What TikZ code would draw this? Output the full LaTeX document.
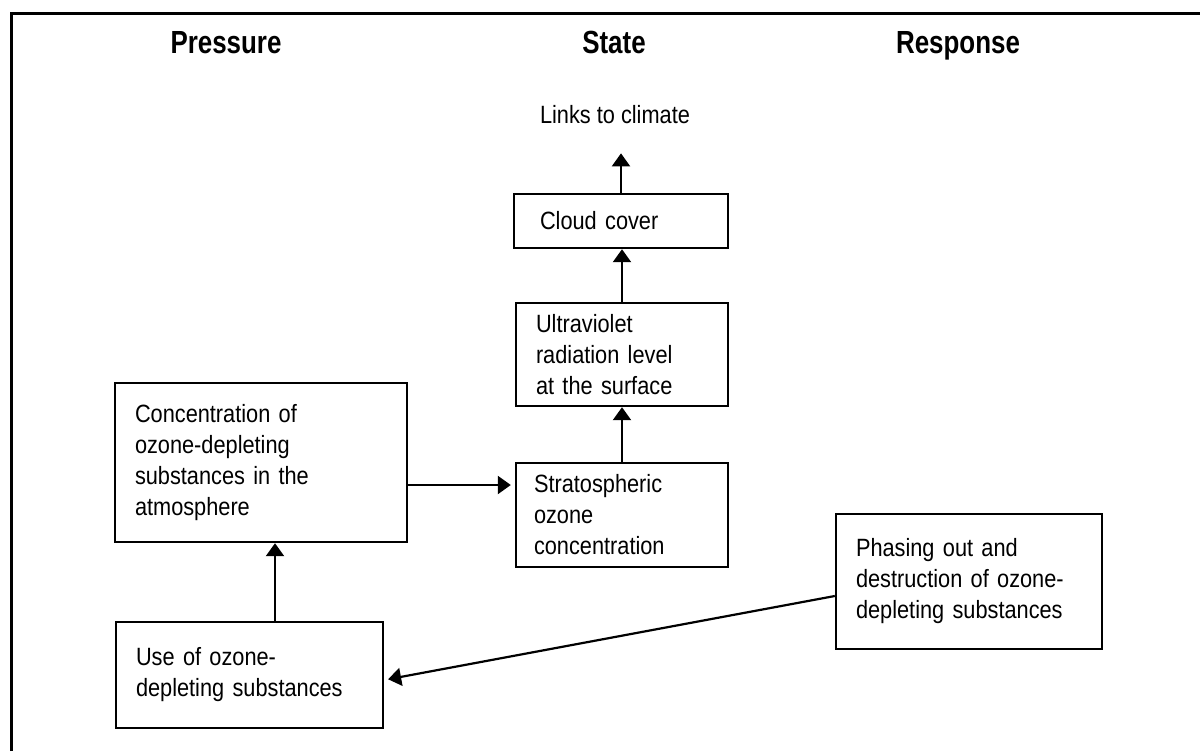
\documentclass[tikz,border=0pt]{standalone}
\usepackage{fontspec}
\setmainfont{Liberation Sans}[FakeStretch=0.87]
\newfontfamily\headfont{Liberation Sans}[FakeStretch=0.81]
\usetikzlibrary{arrows.meta,positioning}

\tikzset{
    block/.style={draw, line width=1.2pt, inner xsep=10pt, inner ysep=0pt, align=left,
        font=\fontsize{12.5}{15.5}\selectfont},
    heading/.style={anchor=base, inner sep=0pt, font=\headfont\bfseries\fontsize{16}{19}\selectfont},
    plain/.style={anchor=base, inner sep=0pt, font=\fontsize{12.5}{15.5}\selectfont}
}

\begin{document}
\begin{tikzpicture}[x=0.5pt, y=-0.5pt, line width=1.1pt, >={Triangle[width=9pt,length=6.5pt]}]

    \useasboundingbox (0,0) rectangle (1200,751);
    \draw[line width=1.5pt] (11,751) -- (11,13) -- (1200,13);

    \node[heading] (pressure) at (226,53) {Pressure};
    \node[heading] (state) at (614,53) {State};
    \node[heading] (response) at (958,53) {Response};

    \node[plain] (links) at (615,123) {Links to climate};

    \node[block, inner xsep=13pt, text width=81pt, minimum height=27pt] (cloud) at (621,221) {Cloud cover};
    \node[block, text width=86pt, minimum height=51.5pt] (uv) at (622,354.5)
        {Ultraviolet\\radiation level\\at the surface};
    \node[block, inner xsep=9pt, text width=88pt, minimum height=52pt] (strat) at (622,515)
        {Stratospheric\\ozone\\concentration};

    \node[block, text width=126pt, minimum height=79.5pt] (conc) at (261,462.5)
        {Concentration of\\ozone-depleting\\substances in the\\atmosphere};
    \node[block, text width=113.5pt, minimum height=53pt] (use) at (249.5,675)
        {Use of ozone-\\depleting substances};

    \node[block, text width=113pt, minimum height=67.5pt] (phase) at (969,581.5)
        {Phasing out and\\destruction of ozone-\\depleting substances};

    \path[->]
        (cloud.north) edge[shorten >=14.5pt] (cloud.north |- links.south)
        (uv.north) edge (uv.north |- cloud.south)
        (strat.north) edge (strat.north |- uv.south);

    \path[->]
        ([yshift=-11.25pt]conc.east) edge[shorten >=2pt] ([yshift=-11.25pt]conc.east -| strat.west)
        ([xshift=12.75pt]use.north) edge ([xshift=12.75pt]use.north |- conc.south);

    \path[->]
        ([yshift=-7.25pt]phase.west) edge[shorten >=2pt] ([yshift=-2.5pt]use.east);

\end{tikzpicture}
\end{document}
